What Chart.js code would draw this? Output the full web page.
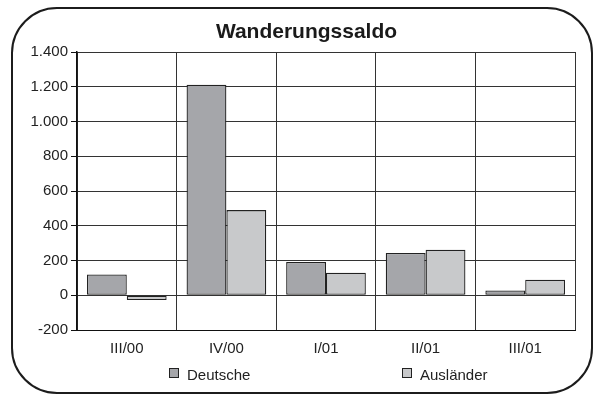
<!DOCTYPE html>
<html>
<head>
<meta charset="utf-8">
<script src="https://cdn.jsdelivr.net/npm/chart.js@4.4.1/dist/chart.umd.min.js"></script>
<style>
  html, body { margin: 0; padding: 0; background: #fff; }
  #wrap { position: relative; width: 594px; height: 396px; overflow: hidden; }
  #frame { position: absolute; left: 11px; top: 7px; width: 578px; height: 383px;
           border: 2px solid #1c1c1c; border-radius: 46px; pointer-events: none; }
  canvas { position: absolute; left: 0; top: 0; }
  #title { position: absolute; left: 0; top: 20px; width: 613px; text-align: center;
           font: bold 21px/21px "Liberation Sans", Arial, sans-serif; color: #1a1a1a; }
  .leg { position: absolute; top: 368px; font: 15px "Liberation Sans", Arial, sans-serif; color: #222; }
  .leg .box { position: absolute; top: 0; width: 8px; height: 8px; border: 1px solid #222; }
  .leg span { position: absolute; top: -1px; white-space: nowrap; line-height: 15px; }
</style>
</head>
<body>
<div id="wrap">
  <canvas id="c" width="594" height="396"></canvas>
  <div id="title">Wanderungssaldo</div>
  <div id="frame"></div>
  <div id="legend"></div>
</div>
<script>
const categories = ['III/00', 'IV/00', 'I/01', 'II/01', 'III/01'];
const deutsche   = [120, 1212, 191, 243, 28];
const auslaender = [-27, 490, 130, 262, 89];
const seriesNames  = ['Deutsche', 'Ausländer'];
const seriesColors = ['#a5a6aa', '#c8c9cb'];
const yTicks = [-200, 0, 200, 400, 600, 800, 1000, 1200, 1400];

const FONT = '"Liberation Sans", Arial, sans-serif';
const fmt = v => String(v).replace(/\B(?=(\d{3})+(?!\d))/g, '.');

const chart = new Chart(document.getElementById('c'), {
  type: 'bar',
  data: {
    labels: categories,
    datasets: [deutsche, auslaender].map((d, i) => ({
      label: seriesNames[i],
      data: d,
      backgroundColor: seriesColors[i],
      borderColor: '#222',
      borderWidth: 1.3,
      borderSkipped: false,
      categoryPercentage: 0.8,
      barPercentage: 1.0,
    }))
  },
  options: {
    responsive: false,
    animation: false,
    layout: { padding: { left: 12, right: 19, top: 52, bottom: 36 } },
    plugins: {
      legend: { display: false },
      tooltip: { enabled: false },
      title: { display: false }
    },
    scales: {
      x: {
        grid: { offset: true, color: '#333', lineWidth: 1, drawTicks: false },
        border: { color: '#111', width: 1 },
        ticks: { color: '#222', font: { family: FONT, size: 15 }, padding: 10 },
        afterFit: s => { s.height = 30; }
      },
      y: {
        min: -200, max: 1400,
        afterBuildTicks: s => { s.ticks = yTicks.map(v => ({ value: v })); },
        grid: { color: '#333', lineWidth: 1, tickLength: 6, tickColor: '#111' },
        border: { color: '#111', width: 1.5 },
        ticks: { color: '#222', font: { family: FONT, size: 15 }, padding: 3, callback: v => fmt(v) },
        afterFit: s => { s.width = 65; }
      }
    }
  }
});

// legend below the axis, spread like the original
const legendX = [169, 402];
document.getElementById('legend').innerHTML = seriesNames.map((n, i) =>
  `<div class="leg" style="left:${legendX[i]}px">
     <div class="box" style="background:${seriesColors[i]}"></div>
     <span style="left:18px">${n}</span>
   </div>`).join('');
</script>
</body>
</html>
